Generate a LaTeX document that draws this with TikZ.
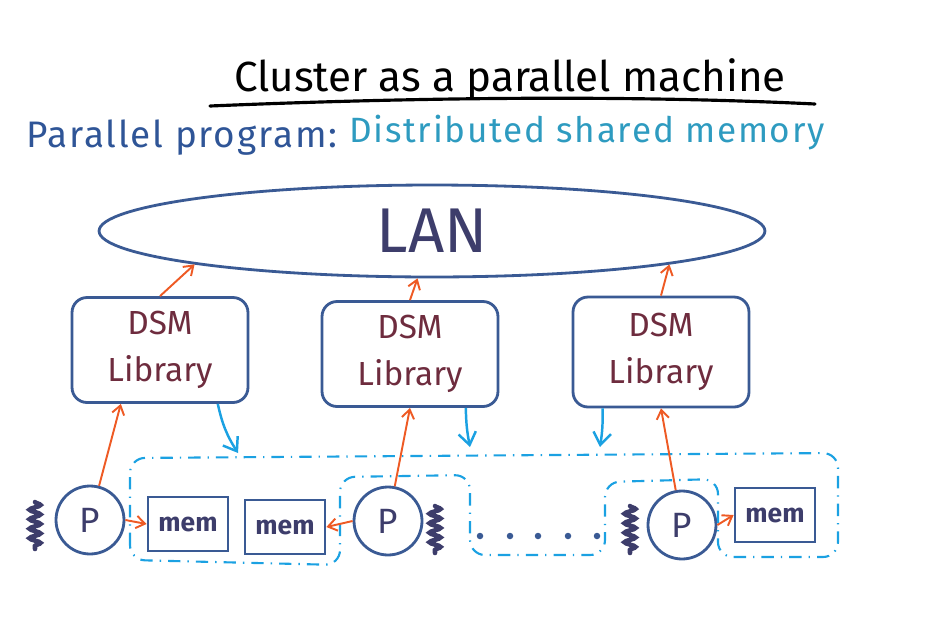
\documentclass[tikz,border=0pt]{standalone}
\usepackage{fontspec}
\setmainfont{Fira Sans}
\usetikzlibrary{arrows.meta,positioning,shapes.geometric,decorations.pathmorphing}

\definecolor{lineblue}{HTML}{3A5A94}
\definecolor{inkblue}{HTML}{3D3D6B}
\definecolor{dsmred}{HTML}{6E2C3E}
\definecolor{arrorange}{HTML}{EE5A24}
\definecolor{skyblue}{HTML}{1BA1E2}
\definecolor{progblue}{HTML}{2F5597}
\definecolor{dsmteal}{HTML}{2E9BC0}

\tikzset{
  libbox/.style={draw=lineblue, line width=1.6pt, rounded corners=0.3cm,
    minimum width=3.52cm, minimum height=2.1cm, align=center, text=dsmred,
    font=\fontsize{19}{27}\selectfont},
  proc/.style={circle, draw=lineblue, line width=1.6pt, minimum size=1.36cm,
    inner sep=0pt, text=inkblue, font=\fontsize{20}{24}\selectfont},
  membox/.style={draw=lineblue, line width=1.6pt, minimum width=1.6cm,
    minimum height=1.08cm, text=inkblue, font=\bfseries\fontsize{15}{18}\selectfont},
  link/.style={draw=arrorange, line width=1.1pt, -{Straight Barb[length=5pt,width=7pt]}},
  share/.style={draw=skyblue, line width=1.4pt, -{Straight Barb[length=7pt,width=10pt]}},
  region/.style={draw=skyblue, line width=1.2pt, rounded corners=0.3cm,
    dash pattern=on 7pt off 4pt on 0.8pt off 4pt},
  squig/.style={draw=inkblue, line width=2.6pt, line cap=round, decorate,
    decoration={snake, segment length=0.19cm, amplitude=0.11cm}},
}

\begin{document}
\begin{tikzpicture}[x=0.02cm, y=-0.02cm]

\useasboundingbox (0,0) rectangle (937,616);

% heading
\node (title) at (510,80) {\fontsize{24}{28}\selectfont Cluster as a parallel machine};
\draw[line width=1.8pt, line cap=round] (210,106) .. controls (450,96) and (650,96) .. (815,104);

\node[anchor=west, text=progblue, font=\fontsize{21}{25}\selectfont\addfontfeatures{LetterSpace=5}] (prog) at (20,138) {Parallel program:};
\node[anchor=west, text=dsmteal, font=\fontsize{20}{24}\selectfont\addfontfeatures{LetterSpace=5}] (dist) at (343,133) {Distributed shared memory};

% network
\node[ellipse, draw=lineblue, line width=1.6pt, minimum width=13.32cm, minimum height=1.84cm,
  inner sep=0pt, text=inkblue, font=\fontsize{36}{40}\selectfont] (lan) at (432,231) {LAN};

% DSM layer
\node[libbox] (dsm1) at (160,350) {DSM\\Library};
\node[libbox] (dsm2) at (410,354) {DSM\\Library};
\node[libbox, minimum height=2.2cm] (dsm3) at (661,352) {DSM\\Library};

% processors and memories
\node[proc] (p1) at (90,520) {P};
\node[proc] (p2) at (388,521) {P};
\node[proc] (p3) at (682,525) {P};

\node[membox] (m1) at (188,524) {mem};
\node[membox] (m2) at (285,527) {mem};
\node[membox] (m3) at (775,515) {mem};

\draw[squig] (35,502) -- (35,549);
\draw[squig] (435,506) -- (435,553);
\draw[squig] (630,506) -- (630,553);

\foreach \x in {480,510,538,568,597}
  \fill[lineblue] (\x,536) circle (0.065cm);

% shared address space
\draw[region] (130,560) -- (130,458) -- (838,453) -- (838,557) -- (718,557)
  -- (718,479) -- (605,482) -- (605,555) -- (470,555) -- (470,475)
  -- (340,477) -- (340,565) -- cycle;

\coordinate (s1) at (238,453);
\coordinate (s2) at (470,447);
\coordinate (s3) at (600,447);

% arrows
\draw[link] (dsm1.north) -- (lan.188);
\draw[link] (dsm2.north) -- (lan.253);
\draw[link] (dsm3.north) -- (lan.352);

\draw[link] (p1) -- (dsm1.234);
\draw[link] (p2) -- (dsm2.south);
\draw[link] (p3) -- (dsm3.south);

\draw[link] (p1.east) -- (m1.west);
\draw[link] (p2.west) -- (m2.east);
\draw[link] (p3.east) -- (m3.west);

\draw[share] (dsm1.-43) to[bend right=10] (s1);
\draw[share] (dsm2.-44) to[bend right=5] (s2);
\draw[share] (dsm3.224) to[bend left=5] (s3);

\end{tikzpicture}
\end{document}
